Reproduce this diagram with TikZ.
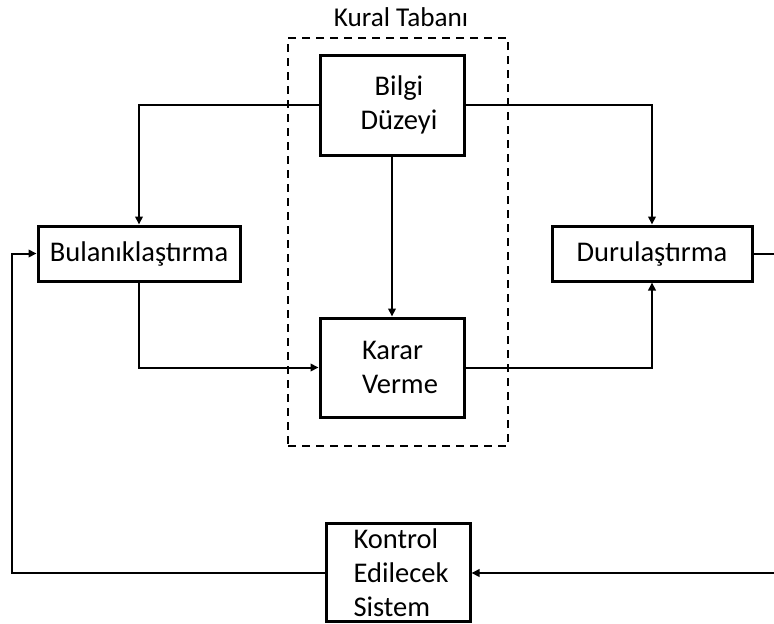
\documentclass[tikz,border=0pt]{standalone}
\usepackage{fontspec}
\setmainfont{Carlito}
\usetikzlibrary{arrows.meta}
\begin{document}
\begin{tikzpicture}[x=1pt,y=-1pt,
  every node/.style={font=\fontsize{28.5}{34}\selectfont},
  blk/.style={draw, line width=3pt, inner sep=0pt},
  conn/.style={line width=2pt, -{Triangle[length=8pt,width=7.5pt]}},
  plain/.style={line width=2pt},
  kural/.style={draw, line width=2pt, dash pattern=on 8pt off 6pt, inner sep=0pt,
    minimum width=220pt, minimum height=408pt}]
\useasboundingbox (0,0) rectangle (774,624);
\node[kural] (kb) at (398,242) {};
\node[font=\fontsize{27.2}{32}\selectfont] (kt) at (401,17.5) {Kural Tabanı};
\node[blk, minimum width=144pt, minimum height=100pt, align=center] (bilgi) at (392,105) {\hspace*{14pt}Bilgi\\\hspace*{14pt}Düzeyi};
\node[blk, minimum width=144pt, minimum height=99pt, align=left] (karar) at (392,367.5) {\hspace*{16pt}Karar\\\hspace*{16pt}Verme};
\node[blk, minimum width=202pt, minimum height=55pt] (bul) at (139,253.5) {Bulanıklaştırma};
\node[blk, minimum width=200pt, minimum height=55pt] (dur) at (652,253.5) {Durulaştırma};
\node[blk, minimum width=144pt, minimum height=98pt, align=left] (kon) at (398,572.5) {\hspace*{6pt}Kontrol\\\hspace*{6pt}Edilecek\\\hspace*{6pt}Sistem};
\coordinate (r1) at (774,253.5);
\coordinate (r2) at (774,573);
\coordinate (l1) at (12,573);
\draw[conn] (bilgi.west) -| (bul.north);
\draw[conn] (bilgi.east) -| (dur.north);
\draw[conn] (bilgi.south) -- (karar.north);
\draw[conn] (bul.south) |- (karar.west);
\draw[conn] (karar.east) -| (dur.south);
\draw[plain] (dur.east) -- (r1);
\draw[conn] (r2) -- (kon.east |- r2);
\draw[conn] (kon.west |- l1) -- (l1) |- (bul.west);
\end{tikzpicture}
\end{document}
